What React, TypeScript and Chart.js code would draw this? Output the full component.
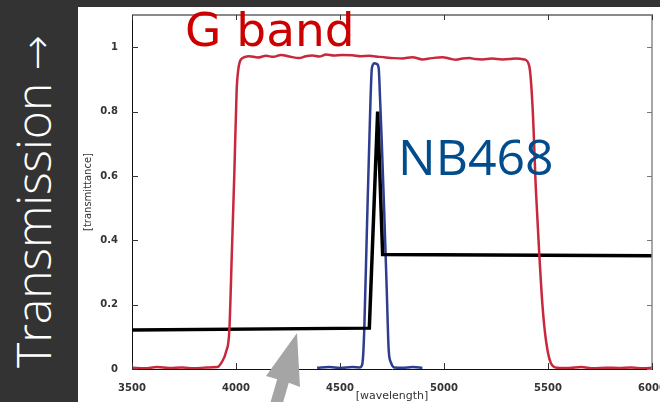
import React, { useEffect, useRef } from "react";
import { Chart, registerables } from "chart.js";

Chart.register(...registerables);

// Axis ranges and tick values
const xMin = 3500;
const xMax = 6000;
const xStep = 500;
const yMin = 0;
const yMax = 1.1;
const yStep = 0.2;

// G band filter transmission curve
const gBandWave = [
  3500, 3560, 3620, 3680, 3740, 3800, 3860, 3910, 3930, 3953, 3968, 3980, 3992,
  4003, 4011, 4024, 4064, 4104, 4144, 4180, 4216, 4256, 4304, 4336, 4367, 4400,
  4433, 4470, 4510, 4559, 4600, 4641, 4673, 4720, 4760, 4800, 4848, 4896, 4940,
  4992, 5030, 5058, 5090, 5122, 5150, 5184, 5230, 5280, 5315, 5346, 5386, 5410,
  5426, 5442, 5458, 5474, 5490, 5514, 5545, 5600, 5660, 5720, 5780, 5840, 5900,
  5960, 6000,
];
const gBandTrans = [
  0.004, 0.002, 0.006, 0.003, 0.005, 0.002, 0.005, 0.006, 0.02, 0.055, 0.12,
  0.36, 0.607, 0.864, 0.93, 0.962, 0.972, 0.968, 0.973, 0.97, 0.976, 0.971,
  0.966, 0.972, 0.974, 0.971, 0.977, 0.974, 0.976, 0.975, 0.972, 0.973, 0.971,
  0.968, 0.966, 0.965, 0.969, 0.962, 0.966, 0.969, 0.964, 0.961, 0.965, 0.966,
  0.963, 0.962, 0.965, 0.962, 0.963, 0.965, 0.962, 0.941, 0.812, 0.554, 0.359,
  0.193, 0.09, 0.018, 0.004, 0.003, 0.006, 0.002, 0.004, 0.003, 0.005, 0.002,
  0.004,
];

// NB468 narrow-band filter transmission curve
const nb468Wave = [
  4390, 4450, 4500, 4560, 4595, 4606, 4612, 4617, 4630, 4645, 4652, 4658, 4666,
  4676, 4686, 4692, 4700, 4713, 4725, 4734, 4745, 4761, 4800, 4850, 4896,
];
const nb468Trans = [
  0.004, 0.006, 0.003, 0.006, 0.005, 0.012, 0.05, 0.13, 0.45, 0.8, 0.925, 0.945,
  0.95, 0.948, 0.935, 0.85, 0.72, 0.48, 0.24, 0.06, 0.02, 0.005, 0.004, 0.006,
  0.004,
];

// Source spectrum with an emission line
const spectrumWave = [3500, 4641, 4681, 4705, 6000];
const spectrumFlux = [0.121, 0.127, 0.8, 0.356, 0.352];

const toPoints = (xs: number[], ys: number[]) =>
  xs.map((x, i) => ({ x, y: ys[i] }));

// Keep the plot box fixed: labels that overhang the edges do not shrink it
const noOverhang = (s: any) => {
  s.paddingLeft = 0;
  s.paddingRight = 0;
  s.paddingTop = 0;
  s.paddingBottom = 0;
};

// Inward tick marks on all four sides plus the grey top/right frame
const frameTicks = {
  id: "frameTicks",
  afterDraw(chart: any) {
    const { ctx, chartArea, scales } = chart;
    const { left, right, top, bottom } = chartArea;
    const xs = scales.x;
    const ys = scales.y;
    ctx.save();
    ctx.lineCap = "butt";

    ctx.strokeStyle = "#8a8a8a";
    ctx.lineWidth = 2;
    ctx.beginPath();
    ctx.moveTo(left, top);
    ctx.lineTo(right + 1, top);
    ctx.stroke();
    ctx.lineWidth = 1.5;
    ctx.beginPath();
    ctx.moveTo(right, top);
    ctx.lineTo(right, bottom);
    ctx.stroke();

    ctx.lineWidth = 1;
    ys.ticks.forEach((t: any) => {
      const py = Math.round(ys.getPixelForValue(t.value)) + 0.5;
      ctx.strokeStyle = "#333";
      ctx.beginPath();
      ctx.moveTo(left, py);
      ctx.lineTo(left + 6, py);
      ctx.stroke();
      ctx.strokeStyle = "#777";
      ctx.beginPath();
      ctx.moveTo(right, py);
      ctx.lineTo(right - 5, py);
      ctx.stroke();
    });
    xs.ticks.forEach((t: any) => {
      const px = Math.round(xs.getPixelForValue(t.value)) + 0.5;
      ctx.strokeStyle = "#333";
      ctx.beginPath();
      ctx.moveTo(px, bottom);
      ctx.lineTo(px, bottom - 6);
      ctx.stroke();
      ctx.beginPath();
      ctx.moveTo(px, top);
      ctx.lineTo(px, top + 5);
      ctx.stroke();
    });
    ctx.restore();
  },
};

export default function App() {
  const canvasRef = useRef<HTMLCanvasElement | null>(null);

  useEffect(() => {
    document.body.style.margin = "0";
    const canvas = canvasRef.current;
    if (!canvas) return;

    const tickFont = { family: "DejaVu Sans", size: 10, weight: "bold" as const };

    const chart = new Chart(canvas, {
      type: "line",
      data: {
        datasets: [
          {
            label: "G band",
            data: toPoints(gBandWave, gBandTrans),
            borderColor: "#c8283c",
            borderWidth: 2.5,
            pointRadius: 0,
            cubicInterpolationMode: "monotone",
            fill: false,
          },
          {
            label: "spectrum",
            data: toPoints(spectrumWave, spectrumFlux),
            borderColor: "#000000",
            borderWidth: 3.5,
            pointRadius: 0,
            tension: 0,
            fill: false,
          },
          {
            label: "NB468",
            data: toPoints(nb468Wave, nb468Trans),
            borderColor: "#2e3d8f",
            borderWidth: 2.5,
            pointRadius: 0,
            cubicInterpolationMode: "monotone",
            fill: false,
          },
        ],
      },
      options: {
        animation: false,
        responsive: false,
        maintainAspectRatio: false,
        devicePixelRatio: 1,
        layout: { padding: { top: 8, right: 8, left: 0, bottom: 0 } },
        plugins: {
          legend: { display: false },
          tooltip: { enabled: false },
        },
        scales: {
          x: {
            type: "linear",
            min: xMin,
            max: xMax,
            grid: { display: false },
            border: { display: true, color: "#111", width: 1 },
            ticks: {
              stepSize: xStep,
              padding: 5,
              color: "#333",
              font: tickFont,
              maxRotation: 0,
              callback: (v: any) => String(v),
            },
            title: {
              display: true,
              text: "[wavelength]",
              color: "#333",
              font: { family: "DejaVu Sans", size: 11, lineHeight: 1 },
              padding: 0,
            },
            afterFit: (s: any) => {
              s.height = 33;
              noOverhang(s);
            },
          },
          y: {
            type: "linear",
            min: yMin,
            max: yMax,
            grid: { display: false },
            border: { display: true, color: "#111", width: 1 },
            ticks: {
              stepSize: yStep,
              includeBounds: false,
              padding: 6,
              color: "#333",
              font: tickFont,
              callback: (v: any) => String(Math.round(Number(v) * 10) / 10),
            },
            title: {
              display: true,
              text: "[transmittance]",
              color: "#333",
              font: { family: "DejaVu Sans", size: 10, lineHeight: 1.2 },
              padding: { top: 4, bottom: 0 },
            },
            afterFit: (s: any) => {
              s.width = 54;
              noOverhang(s);
            },
          },
        },
      },
      plugins: [frameTicks],
    });

    return () => chart.destroy();
  }, []);

  return (
    <div
      style={{
        position: "relative",
        width: 660,
        height: 402,
        background: "#333333",
        overflow: "hidden",
      }}
    >
      <div
        style={{
          position: "absolute",
          left: 9,
          top: 368,
          transformOrigin: "left top",
          transform: "rotate(-90deg)",
          whiteSpace: "nowrap",
          color: "#ffffff",
          fontFamily: "'Open Sans', sans-serif",
          fontWeight: 300,
          fontSize: 48,
          lineHeight: "48px",
        }}
      >
        Transmission{" "}
        <span
          style={{
            fontFamily: "'DejaVu Sans', sans-serif",
            fontWeight: 200,
            fontSize: 42,
          }}
        >
          →
        </span>
      </div>
      <div
        style={{
          position: "absolute",
          left: 78,
          top: 7,
          width: 582,
          height: 395,
          background: "#ffffff",
        }}
      >
        <canvas
          ref={canvasRef}
          width={582}
          height={395}
          style={{ display: "block", width: 582, height: 395 }}
        />
      </div>
      <div
        style={{
          position: "absolute",
          left: 185,
          top: 6,
          whiteSpace: "nowrap",
          color: "#cc0000",
          fontFamily: "'DejaVu Sans', sans-serif",
          fontSize: 47,
          lineHeight: "47px",
        }}
      >
        G band
      </div>
      <div
        style={{
          position: "absolute",
          left: 398,
          top: 131,
          whiteSpace: "nowrap",
          color: "#004c8c",
          fontFamily: "'Open Sans', sans-serif",
          fontSize: 50,
          lineHeight: "50px",
        }}
      >
        NB468
      </div>
      <svg
        width={660}
        height={402}
        style={{ position: "absolute", left: 0, top: 0, pointerEvents: "none" }}
      >
        <polygon
          points="297,333 266,376 277.2,379.3 266,417.7 277.6,421 288.8,382.7 300,387"
          fill="#a5a5a5"
        />
      </svg>
    </div>
  );
}
